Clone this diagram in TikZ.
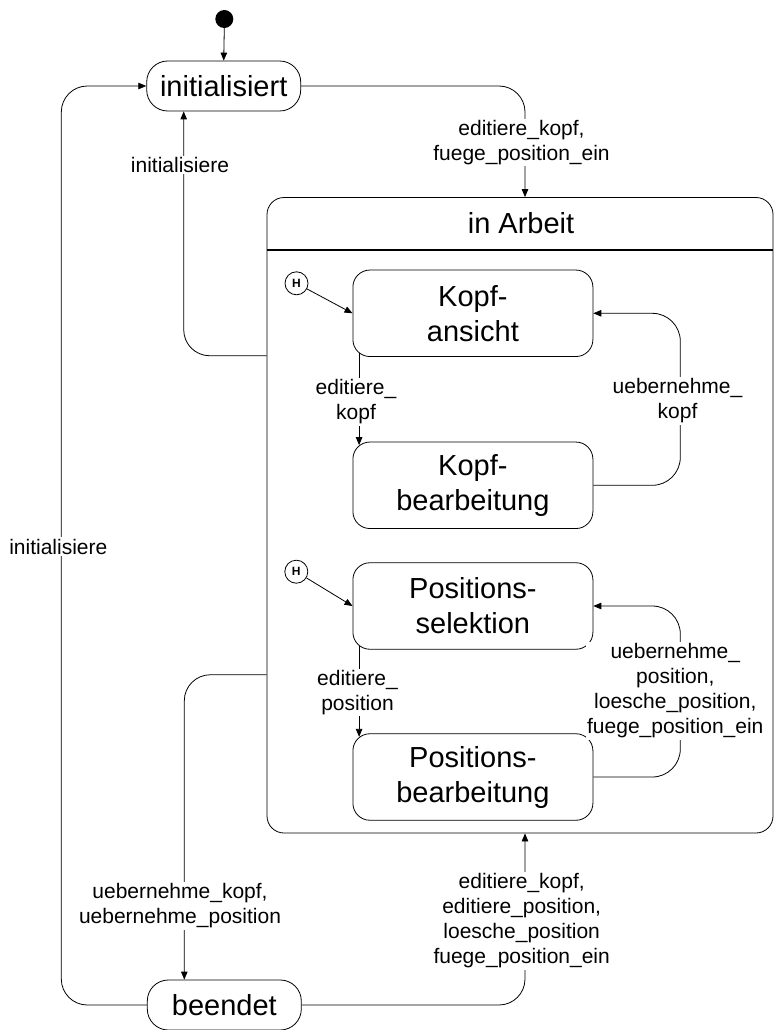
\documentclass[tikz,border=0pt]{standalone}
\usepackage{fontspec}
\setmainfont{Liberation Sans}
\usetikzlibrary{arrows.meta,calc}

\tikzset{
  bigfont/.style={font=\fontsize{29}{35}\selectfont},
  lblfont/.style={font=\fontsize{21}{25}\selectfont},
  state/.style={draw, line width=0.8pt, rounded corners=17pt, align=center,
                inner sep=0pt, bigfont},
  substate/.style={state, minimum width=240pt, minimum height=86.5pt},
  topstate/.style={state, rounded corners=21pt, minimum width=154pt, minimum height=50pt},
  hist/.style={draw, circle, line width=0.8pt, minimum size=23pt, inner sep=0pt,
               font=\bfseries\fontsize{12}{12}\selectfont},
  initdot/.style={circle, fill=black, minimum size=18pt, inner sep=0pt},
  arr/.style={line width=0.8pt, -{Triangle[length=8pt,width=6.5pt]}},
  lbl/.style={fill=white, inner sep=1.5pt, align=center, lblfont},
}

\begin{document}
\begin{tikzpicture}[x=1pt, y=-1pt]
\useasboundingbox (0,0) rectangle (774,1030);

% top-level states
\node[initdot] (dot) at (224.3,19) {};
\node[topstate] (init) at (223.7,86) {initialisiert};
\node[topstate] (beendet) at (224.3,1005) {beendet};

% composite state "in Arbeit"
\node[draw, line width=0.8pt, rounded corners=17pt,
      minimum width=506pt, minimum height=635.5pt, inner sep=0pt]
      (arbeit) at (520,515.25) {};
\node[bigfont] (titel) at (521,223) {in Arbeit};
\draw[line width=2pt] ($(arbeit.north west)+(0,52.5)$) -- ($(arbeit.north east)+(0,52.5)$);

% substates
\node[substate] (kopfa) at (472.9,313.3) {Kopf-\\ansicht};
\node[substate] (kopfb) at (472.9,485.3) {Kopf-\\bearbeitung};
\node[substate] (possel) at (472.9,606) {Positions-\\selektion};
\node[substate] (posbe) at (472.9,777) {Positions-\\bearbeitung};

% history pseudo states
\node[hist] (h1) at (296.5,283.3) {H};
\node[hist] (h2) at (296.3,571.7) {H};

% transitions
\draw[arr] (dot.south) -- (init.north);
\draw[arr, rounded corners=26pt] (init.east) -| ($(arbeit.north)+(5,0)$);
\draw[arr, rounded corners=26pt] (beendet.east) -| ($(arbeit.south)+(5,0)$);
\draw[arr, rounded corners=26pt] (beendet.west) -| ($(init.west)+(-85,0)$) -- (init.west);
\draw[arr, rounded corners=26pt] ($(arbeit.west)+(0,-159.5)$) -| ($(init.south)+(-40,0)$);
\draw[arr, rounded corners=26pt] ($(arbeit.west)+(0,159.5)$) -| ($(beendet.north)+(-40,0)$);

\draw[arr] (h1) -- (kopfa.west);
\draw[arr] (h2) -- (possel.west);
\draw[arr] ($(kopfa.south west)+(6.6,-3.5)$) -- ($(kopfb.north west)+(6.6,3.5)$);
\draw[arr] ($(possel.south west)+(6.6,-3.5)$) -- ($(posbe.north west)+(6.6,3.5)$);
\draw[arr, rounded corners=28pt] (kopfb.east) -| ($(kopfa.east)+(87,0)$) -- (kopfa.east);
\draw[arr, rounded corners=28pt] (posbe.east) -| ($(possel.east)+(87,0)$) -- (possel.east);

% transition labels
\node[lbl] (l1) at (521.5,142.5) {editiere\_kopf,\\fuege\_position\_ein};
\node[lbl] (l2) at (180,165) {initialisiere};
\node[lbl] (l3) at (58.3,546.7) {initialisiere};
\node[lbl] (l4) at (356,402) {editiere\_\\kopf};
\node[lbl] (l5) at (677.5,401) {uebernehme\_\\kopf};
\node[lbl] (l6) at (357.5,692.5) {editiere\_\\position};
\node[lbl] (l7) at (675.3,691) {uebernehme\_\\position,\\loesche\_position,\\fuege\_position\_ein};
\node[lbl] (l8) at (180,906) {uebernehme\_kopf,\\uebernehme\_position};
\node[lbl] (l9) at (521.7,921) {editiere\_kopf,\\editiere\_position,\\loesche\_position\\fuege\_position\_ein};
\end{tikzpicture}
\end{document}
